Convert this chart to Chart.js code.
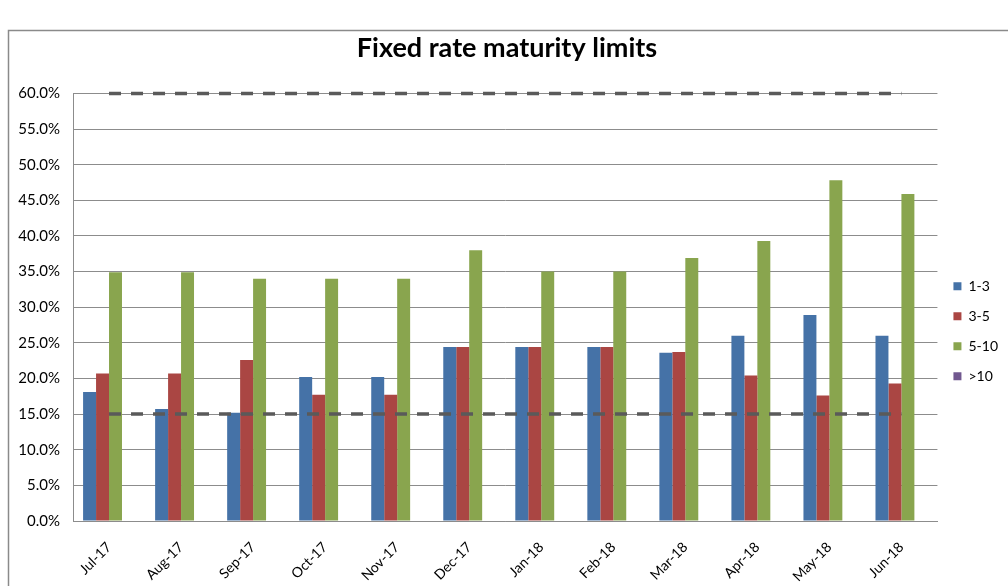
<!DOCTYPE html>
<html>
<head>
<meta charset="utf-8">
<script src="https://cdn.jsdelivr.net/npm/chart.js@4"></script>
<style>
  html, body { margin: 0; padding: 0; background: #fff; }
  #wrap { position: relative; width: 1008px; height: 586px; }
</style>
</head>
<body>
<div id="wrap"><canvas id="c" width="1008" height="586"></canvas></div>
<script>
const categories = ['Jul-17','Aug-17','Sep-17','Oct-17','Nov-17','Dec-17','Jan-18','Feb-18','Mar-18','Apr-18','May-18','Jun-18'];
const seriesNames = ['1-3','3-5','5-10','>10'];
const s1to3  = [18.1, 15.7, 15.2, 20.2, 20.2, 24.4, 24.4, 24.4, 23.6, 26.0, 28.9, 26.0];
const s3to5  = [20.7, 20.7, 22.6, 17.7, 17.7, 24.4, 24.4, 24.4, 23.7, 20.4, 17.6, 19.3];
const s5to10 = [34.9, 34.9, 34.0, 34.0, 34.0, 38.0, 35.0, 35.0, 36.9, 39.3, 47.8, 45.9];
const sOver10 = [0, 0, 0, 0, 0, 0, 0, 0, 0, 0, 0, 0];
const lowerLimit = [15, 15, 15, 15, 15, 15, 15, 15, 15, 15, 15, 15];
const upperLimit = [60, 60, 60, 60, 60, 60, 60, 60, 60, 60, 60, 60];
const yTicks = [0, 5, 10, 15, 20, 25, 30, 35, 40, 45, 50, 55, 60];

const colors = ['#4572A7', '#AA4643', '#89A54E', '#71588F'];
const seriesData = [s1to3, s3to5, s5to10, sOver10];

const frame = {
  id: 'frame',
  beforeDraw(chart) {
    const ctx = chart.ctx;
    ctx.save();
    ctx.fillStyle = '#fff';
    ctx.fillRect(0, 0, chart.width, chart.height);
    ctx.strokeStyle = '#8a8a8a';
    ctx.lineWidth = 1.5;
    ctx.beginPath();
    ctx.moveTo(8.5, chart.height);
    ctx.lineTo(8.5, 30.5);
    ctx.lineTo(chart.width, 30.5);
    ctx.stroke();
    ctx.restore();
  }
};

const barSets = seriesNames.map((n, i) => ({
  type: 'bar',
  label: n,
  data: seriesData[i],
  backgroundColor: colors[i],
  borderWidth: 0,
  categoryPercentage: 0.72,
  barPercentage: 1.0,
  order: 2
}));

const lineStyle = {
  type: 'line',
  borderColor: '#5a5a5a',
  borderWidth: 3.5,
  borderDash: [12, 10],
  pointRadius: 0,
  fill: false,
  clip: false,
  order: 0
};

new Chart(document.getElementById('c'), {
  data: {
    labels: categories,
    datasets: [
      ...barSets,
      Object.assign({ label: 'Lower', data: lowerLimit }, lineStyle),
      Object.assign({ label: 'Upper', data: upperLimit }, lineStyle)
    ]
  },
  options: {
    responsive: false,
    animation: false,
    devicePixelRatio: 1,
    layout: { padding: { left: 6, right: 0, top: 0, bottom: 0 } },
    plugins: {
      title: {
        display: true,
        text: 'Fixed rate maturity limits',
        color: '#000',
        font: { family: 'Lato', size: 27, weight: 'bold' },
        padding: { top: 32, bottom: 29 }
      },
      legend: {
        position: 'right',
        title: { display: true, text: '', padding: { top: 62, bottom: 0 } },
        labels: {
          filter: (item) => seriesNames.includes(item.text),
          boxWidth: 8,
          boxHeight: 8,
          padding: 16,
          color: '#000',
          font: { family: 'Lato', size: 14 }
        }
      },
      tooltip: { enabled: false }
    },
    scales: {
      x: {
        afterFit: (scale) => { scale.height = 65; },
        grid: { display: false, drawTicks: false },
        border: { display: true, color: '#8c8c8c', width: 1 },
        ticks: {
          autoSkip: false,
          minRotation: 45,
          maxRotation: 45,
          padding: 18,
          color: '#000',
          font: { family: 'Lato', size: 14 }
        }
      },
      y: {
        afterFit: (scale) => { scale.width = 67; },
        min: 0,
        max: 60,
        afterBuildTicks: (axis) => { axis.ticks = yTicks.map(v => ({ value: v })); },
        grid: { color: '#8c8c8c', drawTicks: false },
        border: { display: true, color: '#8c8c8c', width: 1 },
        ticks: {
          padding: 13,
          color: '#000',
          font: { family: 'Lato', size: 15 },
          callback: (v) => v.toFixed(1) + '%'
        }
      }
    }
  },
  plugins: [frame]
});
</script>
</body>
</html>
